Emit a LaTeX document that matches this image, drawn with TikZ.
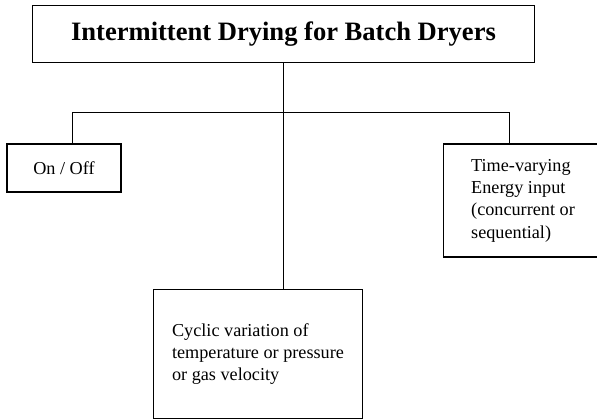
\documentclass[tikz,border=0pt]{standalone}
\usepackage{fontspec}
\setmainfont{Liberation Serif}
\usepackage{tikz}
\tikzset{
  fig/.style={font=\fontsize{12}{14.7}\selectfont},
  box/.style={draw,line width=0.7pt,inner sep=0pt,align=left},
  ttlbox/.style={box,align=center,font=\fontsize{17.5}{21}\selectfont\bfseries},
  ln/.style={line width=0.6pt},
}
\begin{document}
\begin{tikzpicture}[fig,x=0.659pt,y=-0.659pt]
\useasboundingbox (0,0) rectangle (597,420);
\clip (0,0) rectangle (597,420);

\node[ttlbox,minimum width=330.2pt,minimum height=37.2pt] (title) at (283.5,34) {Intermittent Drying for Batch Dryers};
\node[box,minimum width=75.1pt,minimum height=31.6pt] (onoff) at (64,168) {On / Off};
\node[box,minimum width=105.4pt,minimum height=74.5pt] (timevar) at (523,200.5) {Time-varying\\Energy input\\(concurrent or\\sequential)};
\node[box,minimum width=138pt,minimum height=84.4pt] (cyclic) at (258,354) {Cyclic variation of\\temperature or pressure\\or gas velocity};

% branch bar
\coordinate (barl) at (72,112);
\coordinate (barr) at (509,112);

\draw[ln] (title.south) -- (title.south |- cyclic.north);
\draw[ln] (barl |- onoff.north) -- (barl) -- (barr) -- (barr |- timevar.north);

\end{tikzpicture}
\end{document}
